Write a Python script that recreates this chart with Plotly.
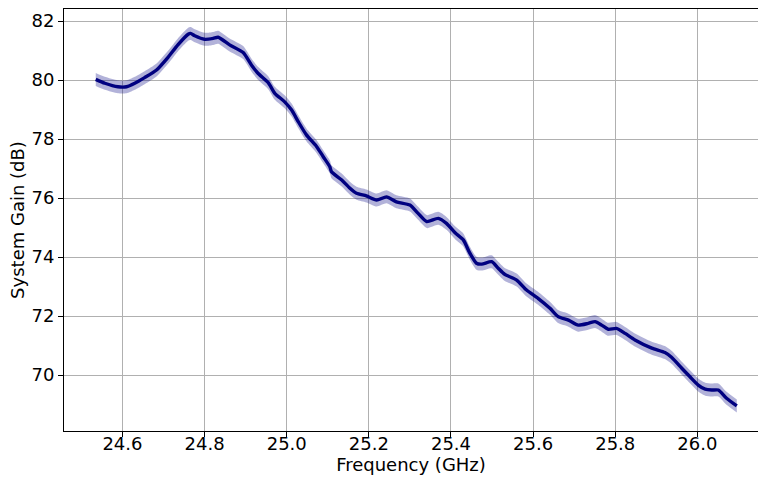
import plotly.graph_objects as go

freq_ghz = [24.535, 24.557, 24.589, 24.610, 24.630, 24.654, 24.683, 24.711, 24.735, 24.760,
            24.766, 24.776, 24.800, 24.821, 24.833, 24.861, 24.894, 24.914, 24.930, 24.955,
            24.971, 24.995, 25.012, 25.028, 25.048, 25.073, 25.089, 25.105, 25.109, 25.134,
            25.154, 25.170, 25.194, 25.219, 25.243, 25.267, 25.300, 25.320, 25.341, 25.369,
            25.389, 25.410, 25.430, 25.446, 25.462, 25.475, 25.499, 25.515, 25.531, 25.560,
            25.584, 25.612, 25.641, 25.661, 25.686, 25.710, 25.734, 25.751, 25.767, 25.783,
            25.803, 25.824, 25.848, 25.889, 25.921, 25.937, 25.962, 25.982, 26.002, 26.019,
            26.035, 26.051, 26.071, 26.096]
gain_db = [80.02, 79.89, 79.77, 79.77, 79.89, 80.08, 80.34, 80.77, 81.19, 81.55,
           81.58, 81.50, 81.38, 81.41, 81.45, 81.19, 80.93, 80.51, 80.23, 79.91,
           79.55, 79.26, 78.98, 78.59, 78.14, 77.74, 77.40, 77.06, 76.89, 76.61,
           76.33, 76.16, 76.07, 75.93, 76.04, 75.87, 75.76, 75.48, 75.20, 75.31,
           75.14, 74.82, 74.58, 74.13, 73.79, 73.76, 73.84, 73.62, 73.41, 73.22,
           72.88, 72.60, 72.26, 71.98, 71.86, 71.69, 71.75, 71.81, 71.69, 71.55,
           71.58, 71.41, 71.19, 70.91, 70.76, 70.60, 70.23, 69.94, 69.66, 69.52,
           69.49, 69.49, 69.21, 68.95]
gain_spread_db = [0.22] * len(gain_db)

x_ticks = [24.6, 24.8, 25.0, 25.2, 25.4, 25.6, 25.8, 26.0]
y_ticks = [70, 72, 74, 76, 78, 80, 82]

upper = [g + s for g, s in zip(gain_db, gain_spread_db)]
lower = [g - s for g, s in zip(gain_db, gain_spread_db)]

fig = go.Figure()
fig.add_trace(go.Scatter(x=freq_ghz, y=upper, mode="lines", line=dict(width=0, shape="spline", smoothing=0.6),
                         showlegend=False, hoverinfo="skip"))
fig.add_trace(go.Scatter(x=freq_ghz, y=lower, mode="lines", line=dict(width=0, shape="spline", smoothing=0.6),
                         fill="tonexty", fillcolor="rgba(0,0,128,0.3)", showlegend=False, hoverinfo="skip"))
fig.add_trace(go.Scatter(x=freq_ghz, y=gain_db, mode="lines",
                         line=dict(color="#000080", width=3.4, shape="spline", smoothing=0.6),
                         showlegend=False))

tick_font = dict(family="DejaVu Sans", size=18, color="black")
title_font = dict(family="DejaVu Sans", size=18, color="black")
fig.update_layout(
    width=758, height=478,
    margin=dict(l=64, r=0, t=9, b=47),
    paper_bgcolor="white", plot_bgcolor="white",
    font=tick_font,
    xaxis=dict(range=[24.4577, 26.1476], tickvals=x_ticks, ticktext=[f"{v:.1f}" for v in x_ticks],
               showgrid=True, gridcolor="#b0b0b0", gridwidth=1.1,
               showline=True, linecolor="black", linewidth=1.1, mirror=True,
               ticks="outside", ticklen=5, tickwidth=1.1, tickcolor="black",
               zeroline=False, tickfont=tick_font, ticklabelstandoff=-9,
               title=dict(text="Frequency (GHz)", font=title_font, standoff=2)),
    yaxis=dict(range=[68.102, 82.407], tickvals=y_ticks, ticktext=[str(v) for v in y_ticks],
               showgrid=True, gridcolor="#b0b0b0", gridwidth=1.1,
               showline=True, linecolor="black", linewidth=1.1, mirror=False,
               ticks="outside", ticklen=5, tickwidth=1.1, tickcolor="black",
               zeroline=False, tickfont=tick_font,
               title=dict(text="System Gain (dB)", font=title_font, standoff=2)),
)
fig.write_html("out.html")
